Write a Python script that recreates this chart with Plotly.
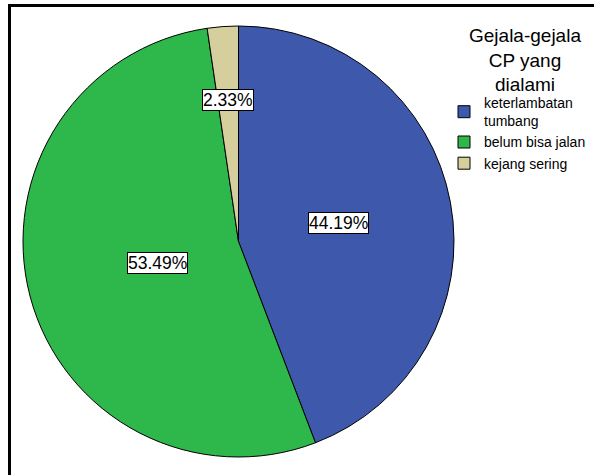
import math
import plotly.graph_objects as go

# Symptom counts (n = 43)
categories = ["keterlambatan<br>tumbang", "belum bisa jalan", "kejang sering"]
counts = [19, 23, 1]
colors = ["#3e58ab", "#2eb84c", "#d4cf9c"]
legend_title = "Gejala-gejala<br>CP yang<br>dialami"

# Radial position of each percentage label, as a fraction of the radius
label_radius = [0.47, 0.39, 0.66]

W, H = 594, 475
# Pie bounding box in pixels (left, right, top, bottom)
px_left, px_right, px_top, px_bottom = 23, 454, 26, 457

FONT = "Arial, Liberation Sans"

fig = go.Figure(
    go.Pie(
        labels=categories,
        values=counts,
        sort=False,
        direction="clockwise",
        rotation=0,
        marker=dict(colors=colors, line=dict(color="black", width=1)),
        textinfo="none",
        hoverinfo="label+percent",
        domain=dict(x=[px_left / W, px_right / W],
                    y=[1 - px_bottom / H, 1 - px_top / H]),
    )
)

# Percentage labels in white boxes, placed along each slice's bisector
total = sum(counts)
cx = (px_left + px_right) / 2
cy = (px_top + px_bottom) / 2
R = (px_right - px_left) / 2
cum = 0
for val, frac in zip(counts, label_radius):
    mid = (cum + val / 2) / total * 2 * math.pi
    cum += val
    x = cx + frac * R * math.sin(mid)
    y = cy - frac * R * math.cos(mid)
    fig.add_annotation(
        x=x / W, y=1 - y / H, xref="paper", yref="paper",
        text=f"{val / total * 100:.2f}%", showarrow=False,
        font=dict(family=FONT, size=17.5, color="black"),
        bgcolor="white", bordercolor="black", borderwidth=1, borderpad=0,
        xanchor="center", yanchor="middle",
    )

# Legend heading
fig.add_annotation(
    x=525 / W, y=1 - 23 / H, xref="paper", yref="paper",
    text=legend_title, showarrow=False, align="center",
    font=dict(family=FONT, size=19, color="black"),
    xanchor="center", yanchor="top",
)

# Outer frame
fig.add_shape(
    type="rect", xref="paper", yref="paper",
    x0=9.5 / W, x1=1.2, y0=-0.2, y1=1 - 5.5 / H,
    line=dict(color="black", width=3), fillcolor="rgba(0,0,0,0)",
)

fig.update_layout(
    width=W, height=H,
    margin=dict(l=0, r=0, t=0, b=0),
    paper_bgcolor="white", plot_bgcolor="white",
    showlegend=True,
    legend=dict(
        x=444 / W, y=1 - 87 / H, xanchor="left", yanchor="top",
        font=dict(family=FONT, size=14, color="black"),
        bgcolor="rgba(0,0,0,0)", itemwidth=30, tracegroupgap=0,
    ),
)

fig.write_html("out.html")
